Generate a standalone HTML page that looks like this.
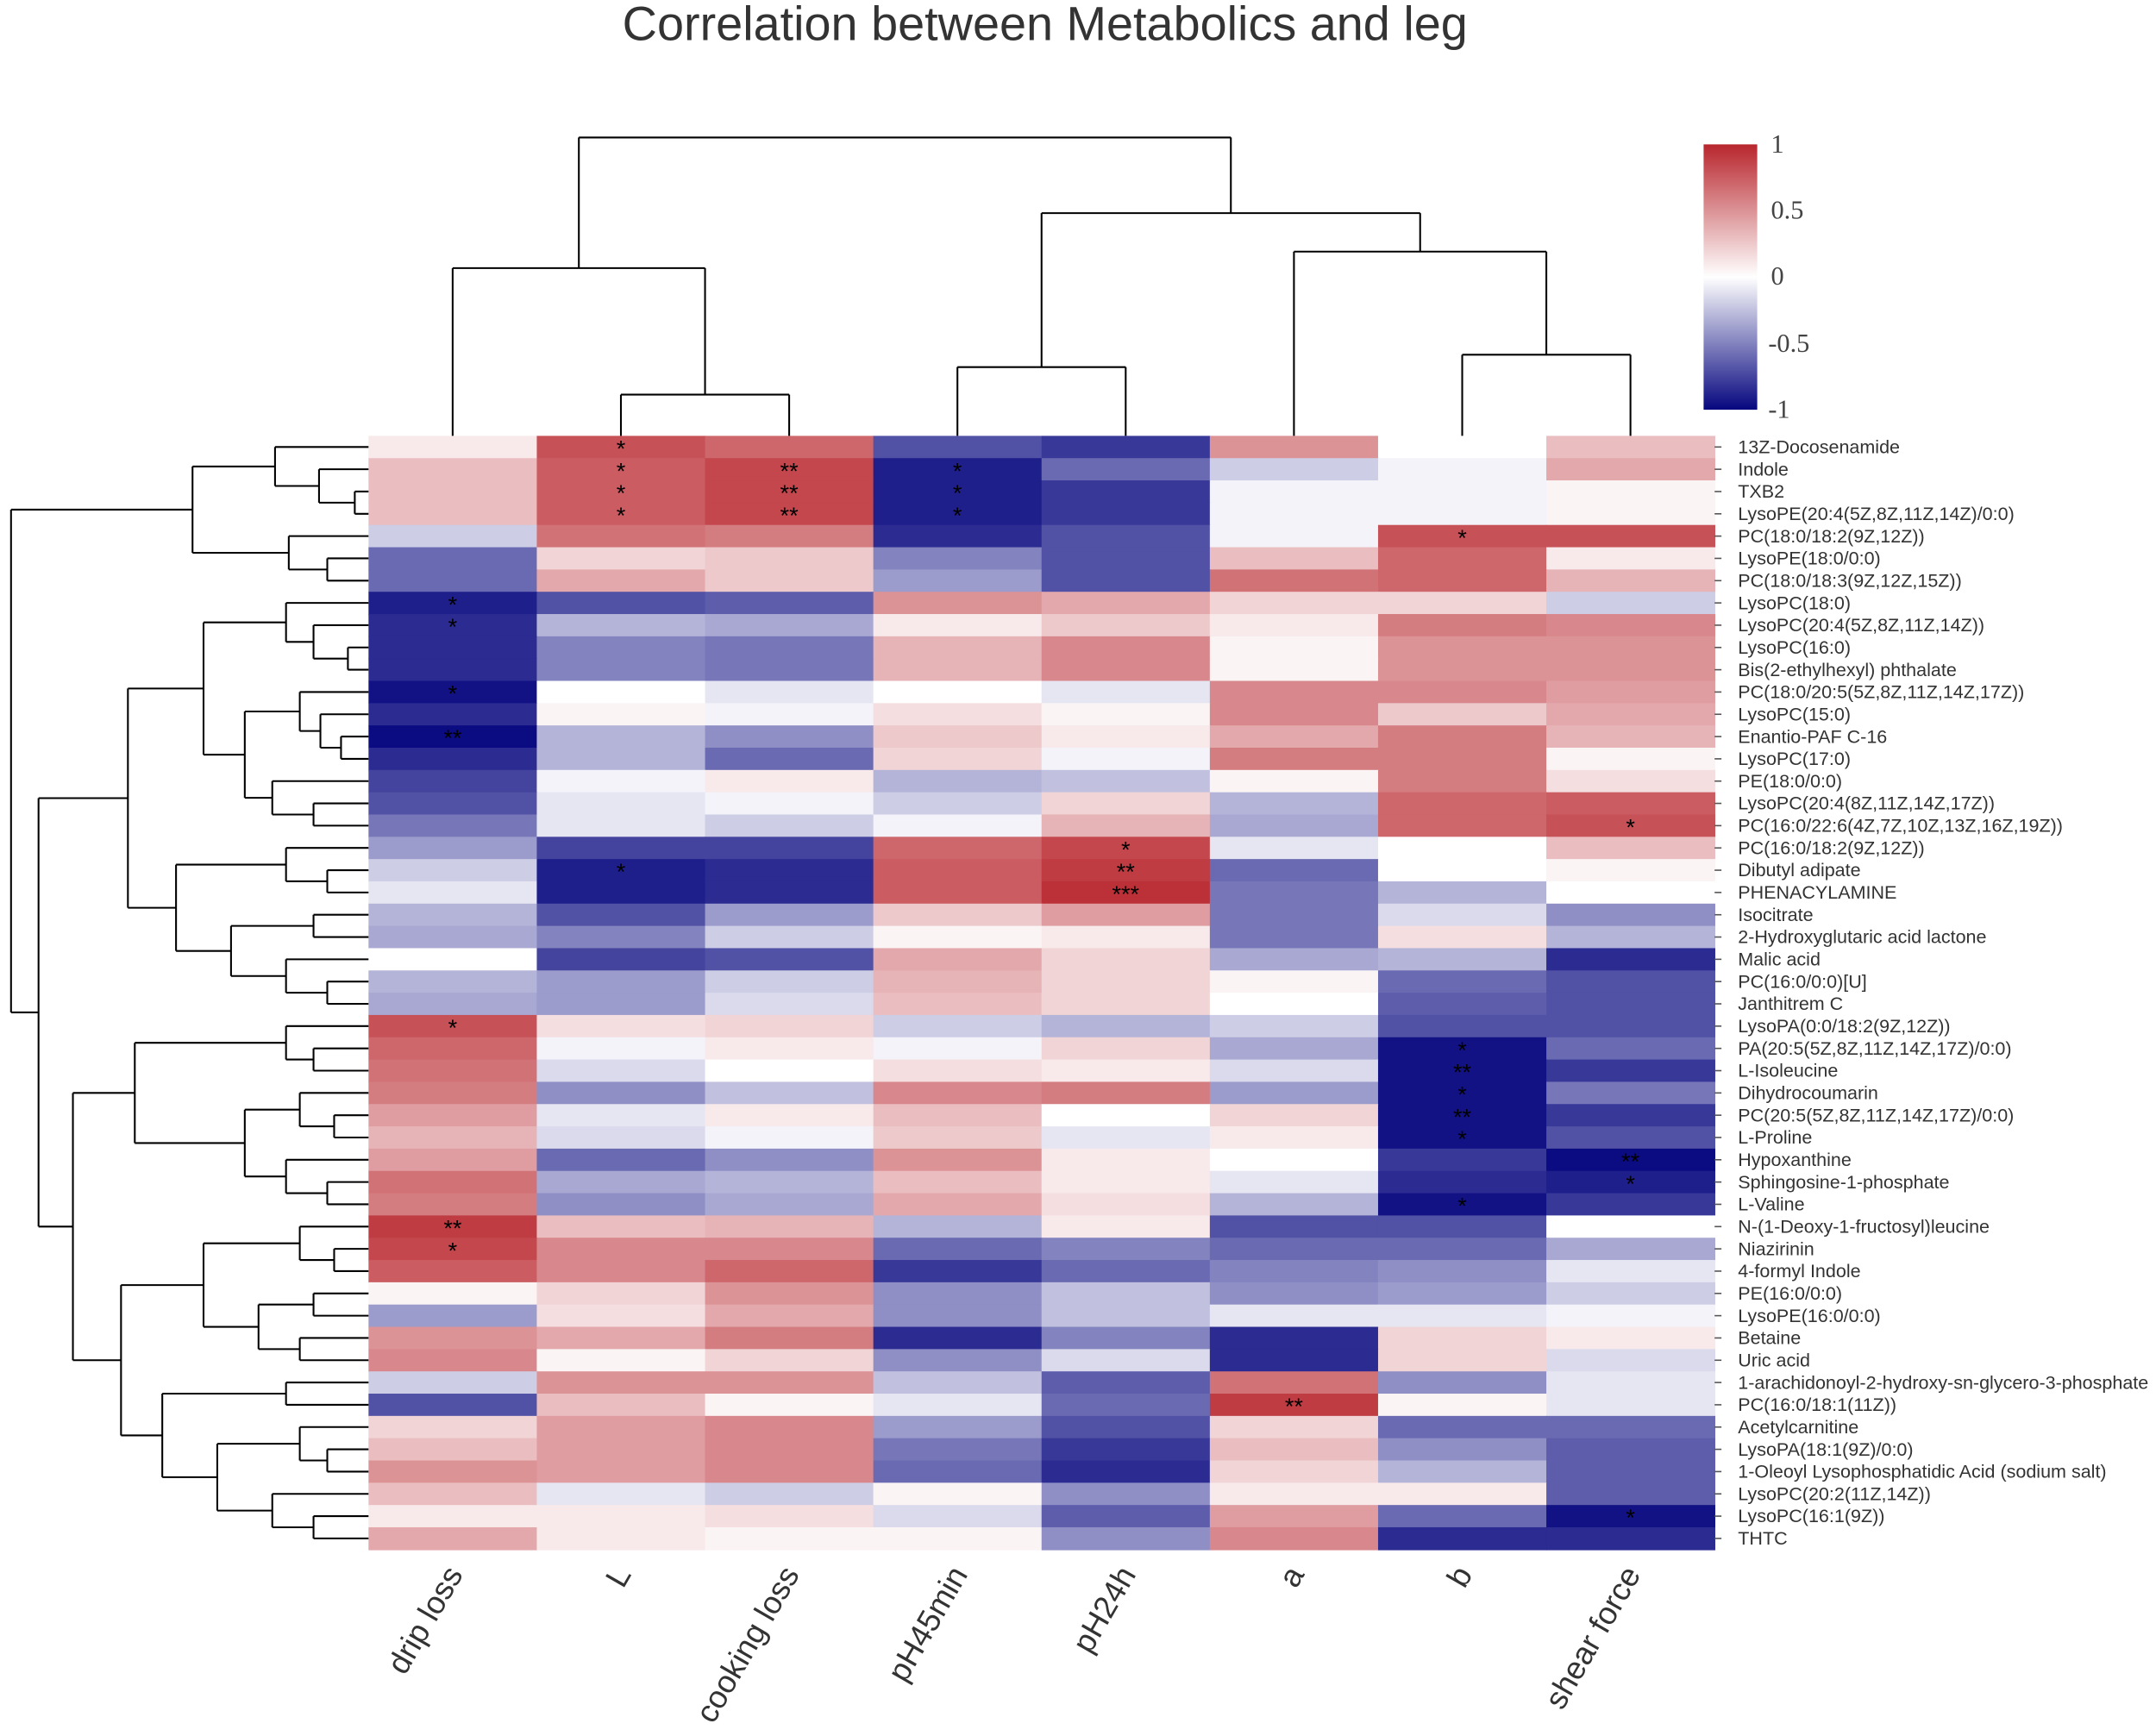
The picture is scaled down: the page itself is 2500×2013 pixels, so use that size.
<!DOCTYPE html>
<html><head><meta charset="utf-8"><style>
html,body{margin:0;padding:0;background:#fff}
svg{display:block}
</style></head><body>
<svg id="chart" width="2500" height="2013" viewBox="0 0 1568 1262.6" xmlns="http://www.w3.org/2000/svg">
<defs><linearGradient id="cbar" x1="0" y1="0" x2="0" y2="1">
<stop offset="0" stop-color="#b8262d"/><stop offset="0.5" stop-color="#ffffff"/><stop offset="1" stop-color="#06067f"/></linearGradient></defs>
<text x="760" y="29" text-anchor="middle" font-family="Liberation Sans, sans-serif" font-size="35" fill="#333">Correlation between Metabolics and leg</text>
<g id="cells"></g>
<g id="stars"></g>
<g id="rowlabels"></g>
<g id="collabels"></g>
<g id="dendro" stroke="#000" stroke-width="1.3" fill="none"></g>
<g>
<rect x="1239" y="105" width="39" height="193" fill="url(#cbar)"/>
<g font-family="Liberation Serif, serif" font-size="19" fill="#444">
<text x="1288" y="111">1</text>
<text x="1288" y="159">0.5</text>
<text x="1288" y="207">0</text>
<text x="1286" y="256">-0.5</text>
<text x="1286" y="304">-1</text>
</g></g>
</svg>
<script>
const columns=["drip loss","L","cooking loss","pH45min","pH24h","a","b","shear force"];
const rows=["13Z-Docosenamide","Indole","TXB2","LysoPE(20:4(5Z,8Z,11Z,14Z)/0:0)","PC(18:0/18:2(9Z,12Z))","LysoPE(18:0/0:0)","PC(18:0/18:3(9Z,12Z,15Z))","LysoPC(18:0)","LysoPC(20:4(5Z,8Z,11Z,14Z))","LysoPC(16:0)","Bis(2-ethylhexyl) phthalate","PC(18:0/20:5(5Z,8Z,11Z,14Z,17Z))","LysoPC(15:0)","Enantio-PAF C-16","LysoPC(17:0)","PE(18:0/0:0)","LysoPC(20:4(8Z,11Z,14Z,17Z))","PC(16:0/22:6(4Z,7Z,10Z,13Z,16Z,19Z))","PC(16:0/18:2(9Z,12Z))","Dibutyl adipate","PHENACYLAMINE","Isocitrate","2-Hydroxyglutaric acid lactone","Malic acid","PC(16:0/0:0)[U]","Janthitrem C","LysoPA(0:0/18:2(9Z,12Z))","PA(20:5(5Z,8Z,11Z,14Z,17Z)/0:0)","L-Isoleucine","Dihydrocoumarin","PC(20:5(5Z,8Z,11Z,14Z,17Z)/0:0)","L-Proline","Hypoxanthine","Sphingosine-1-phosphate","L-Valine","N-(1-Deoxy-1-fructosyl)leucine","Niazirinin","4-formyl Indole","PE(16:0/0:0)","LysoPE(16:0/0:0)","Betaine","Uric acid","1-arachidonoyl-2-hydroxy-sn-glycero-3-phosphate","PC(16:0/18:1(11Z))","Acetylcarnitine","LysoPA(18:1(9Z)/0:0)","1-Oleoyl Lysophosphatidic Acid (sodium salt)","LysoPC(20:2(11Z,14Z))","LysoPC(16:1(9Z))","THTC"];
const values=[
[0.1,0.8,0.7,-0.7,-0.8,0.5,0,0.3],
[0.3,0.75,0.85,-0.9,-0.6,-0.2,-0.05,0.4],
[0.3,0.75,0.85,-0.9,-0.8,-0.05,-0.05,0.05],
[0.3,0.75,0.85,-0.9,-0.8,-0.05,-0.05,0.05],
[-0.2,0.65,0.6,-0.85,-0.7,-0.05,0.8,0.8],
[-0.6,0.2,0.25,-0.5,-0.7,0.3,0.7,0.1],
[-0.6,0.4,0.25,-0.4,-0.7,0.65,0.7,0.35],
[-0.9,-0.7,-0.65,0.5,0.4,0.2,0.2,-0.2],
[-0.85,-0.3,-0.35,0.1,0.25,0.1,0.6,0.55],
[-0.85,-0.5,-0.55,0.35,0.55,0.05,0.5,0.5],
[-0.85,-0.5,-0.55,0.35,0.55,0.05,0.5,0.5],
[-0.95,0,-0.1,0,-0.1,0.55,0.55,0.45],
[-0.85,0.05,-0.05,0.15,0.05,0.55,0.25,0.4],
[-0.98,-0.3,-0.45,0.25,0.1,0.4,0.6,0.35],
[-0.85,-0.3,-0.6,0.2,-0.05,0.6,0.6,0.05],
[-0.75,-0.05,0.1,-0.3,-0.25,0.05,0.6,0.15],
[-0.7,-0.1,-0.05,-0.2,0.2,-0.3,0.7,0.75],
[-0.55,-0.1,-0.2,-0.05,0.35,-0.35,0.7,0.8],
[-0.4,-0.75,-0.75,0.7,0.85,-0.1,0,0.3],
[-0.2,-0.9,-0.85,0.75,0.9,-0.6,0,0.05],
[-0.1,-0.9,-0.85,0.75,0.95,-0.55,-0.3,0],
[-0.3,-0.7,-0.4,0.25,0.45,-0.55,-0.15,-0.45],
[-0.35,-0.5,-0.2,0.05,0.1,-0.55,0.15,-0.3],
[0,-0.75,-0.7,0.4,0.2,-0.35,-0.3,-0.85],
[-0.3,-0.4,-0.2,0.35,0.2,0.05,-0.6,-0.7],
[-0.35,-0.4,-0.15,0.3,0.2,0,-0.65,-0.7],
[0.8,0.15,0.2,-0.2,-0.3,-0.2,-0.7,-0.7],
[0.7,-0.05,0.1,-0.05,0.2,-0.35,-0.95,-0.6],
[0.65,-0.15,0,0.15,0.1,-0.15,-0.95,-0.8],
[0.6,-0.45,-0.25,0.55,0.6,-0.4,-0.95,-0.55],
[0.45,-0.1,0.1,0.3,0,0.2,-0.95,-0.8],
[0.35,-0.15,-0.05,0.25,-0.1,0.1,-0.95,-0.7],
[0.45,-0.6,-0.45,0.5,0.1,0,-0.8,-0.98],
[0.65,-0.35,-0.3,0.3,0.1,-0.1,-0.85,-0.9],
[0.6,-0.45,-0.35,0.4,0.15,-0.3,-0.95,-0.8],
[0.9,0.3,0.35,-0.3,0.1,-0.7,-0.7,0],
[0.85,0.55,0.55,-0.6,-0.5,-0.6,-0.6,-0.35],
[0.75,0.55,0.7,-0.8,-0.6,-0.5,-0.45,-0.1],
[0.05,0.2,0.5,-0.45,-0.25,-0.45,-0.4,-0.2],
[-0.4,0.15,0.4,-0.45,-0.25,-0.1,-0.1,-0.05],
[0.5,0.4,0.6,-0.85,-0.5,-0.85,0.2,0.1],
[0.55,0.05,0.2,-0.45,-0.15,-0.85,0.2,-0.15],
[-0.2,0.5,0.5,-0.25,-0.65,0.65,-0.45,-0.1],
[-0.7,0.3,0.05,-0.1,-0.6,0.9,0.05,-0.1],
[0.2,0.45,0.55,-0.4,-0.7,0.2,-0.6,-0.6],
[0.3,0.45,0.55,-0.55,-0.8,0.3,-0.45,-0.65],
[0.5,0.45,0.55,-0.6,-0.85,0.2,-0.3,-0.65],
[0.3,-0.1,-0.2,0.05,-0.45,0.1,0.1,-0.65],
[0.1,0.1,0.15,-0.15,-0.65,0.45,-0.6,-0.95],
[0.4,0.1,0.05,0.05,-0.45,0.55,-0.85,-0.85]];
const starRows=[0,1,1,1,2,2,2,3,3,3,4,7,8,11,13,17,18,19,19,20,26,27,28,29,30,31,32,33,34,35,36,43,48];
const starCols=[1,1,2,3,1,2,3,1,2,3,6,0,0,0,0,7,4,1,4,4,0,6,6,6,6,6,7,7,6,0,0,5,7];
const starText=["*","*","**","*","*","**","*","*","**","*","*","*","*","*","**","*","*","*","**","***","*","*","**","*","**","*","**","*","*","**","*","**","*"];
const NS="http://www.w3.org/2000/svg";
const X0=268,X1=1247,Y0=317,Y1=1127;
const cw=(X1-X0)/columns.length, rh=(Y1-Y0)/rows.length;
function xPos(c){return X0+c*cw;}
function yPos(r){return Y0+r*rh;}
function color(v){
  v=Math.max(-1,Math.min(1,v));
  let t=Math.abs(v), tgt=v>=0?[184,38,45]:[6,6,127];
  const c=[255,255,255].map((w,i)=>Math.round(w+(tgt[i]-w)*t));
  return `rgb(${c[0]},${c[1]},${c[2]})`;
}
function mk(tag,attrs,parent){const e=document.createElementNS(NS,tag);for(const k in attrs)e.setAttribute(k,attrs[k]);parent.appendChild(e);return e;}
const cells=document.getElementById('cells');
values.forEach((row,r)=>row.forEach((v,c)=>{
  const e=mk('rect',{x:xPos(c),y:yPos(r),width:cw+0.5,height:rh+0.5,fill:color(v)},cells);
  
  
}));
const stars=document.getElementById('stars');
starRows.forEach((r,i)=>{
  const e=mk('text',{x:xPos(starCols[i])+cw/2,y:yPos(r)+rh/2+7,'text-anchor':'middle','font-family':'Liberation Sans, sans-serif','font-size':'17',fill:'#000'},stars);
  e.textContent=starText[i];
  
  
});
const rl=document.getElementById('rowlabels');
rows.forEach((n,r)=>{
  const e=mk('text',{x:1264,y:yPos(r)+rh/2+4.5,'font-family':'Liberation Sans, sans-serif','font-size':'13.5',fill:'#333'},rl);
  e.textContent=n;
  
  
  const t=mk('line',{x1:X1,x2:X1+5,y1:yPos(r)+rh/2,y2:yPos(r)+rh/2,stroke:'#555','stroke-width':1},rl);
  
  
});
const cl=document.getElementById('collabels');
columns.forEach((n,c)=>{
  const cx=xPos(c)+cw/2+8, cy=1145;
  const e=mk('text',{x:cx,y:cy,'text-anchor':'end','font-family':'Liberation Sans, sans-serif','font-size':'23',fill:'#333',transform:`rotate(-60 ${cx} ${cy})`},cl);
  e.textContent=n;
  
  
});
const dg=document.getElementById('dendro');
function seg(x1,y1,x2,y2){const e=mk('line',{x1,y1,x2,y2},dg);}
const A=[128,[68,0,[36,1,[10,2,3]]],[58,4,[30,5,6]]];
const B=[175,[120,[60,7,[40,8,[15,9,10]]],[90,[50,11,[35,12,[20,13,14]]],[70,15,[40,16,17]]]],[140,[60,18,[30,19,20]],[100,[40,21,22],[60,23,[30,24,25]]]]];
const C=[170,[60,26,[40,27,28]],[90,[50,29,[25,30,31]],[60,32,[30,33,34]]]];
const D=[180,[120,[50,35,[25,36,37]],[80,[40,38,39],[50,40,41]]],[150,[60,42,43],[110,[50,44,[30,45,46]],[70,47,[40,48,49]]]]];
const leftTree=[260,A,[240,B,[215,C,D]]];
function drawLeft(n){
  if(typeof n==='number')return {pos:yPos(n)+rh/2,x:X0};
  const a=drawLeft(n[1]),b=drawLeft(n[2]),x=X0-n[0];
  seg(x,a.pos,a.x,a.pos);seg(x,b.pos,b.x,b.pos);seg(x,a.pos,x,b.pos);
  return {pos:(a.pos+b.pos)/2,x};
}
drawLeft(leftTree);
const topTree=[100,[195,0,[287,1,2]],[155,[267,3,4],[183,5,[258,6,7]]]];
function drawTop(n){
  if(typeof n==='number')return {pos:xPos(n)+cw/2,y:Y0};
  const a=drawTop(n[1]),b=drawTop(n[2]),y=n[0];
  seg(a.pos,y,a.pos,a.y);seg(b.pos,y,b.pos,b.y);seg(a.pos,y,b.pos,y);
  return {pos:(a.pos+b.pos)/2,y};
}
drawTop(topTree);
</script>
</body></html>
